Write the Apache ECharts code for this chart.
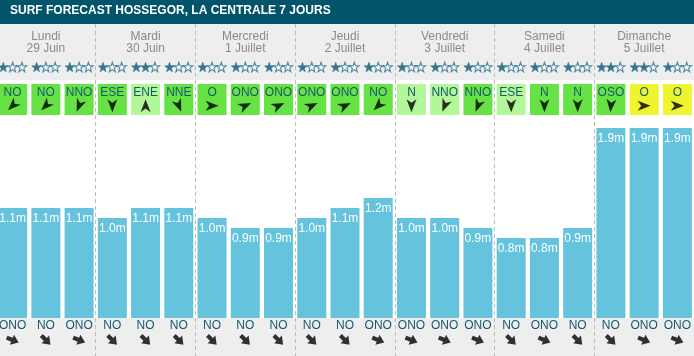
<!DOCTYPE html>
<html><head><meta charset="utf-8">
<script src="https://cdn.jsdelivr.net/npm/echarts@6/dist/echarts.min.js"></script>
<style>html,body{margin:0;padding:0;background:#fff;overflow:hidden;width:694px;height:356px}#c{width:698px;height:356px;margin-left:-4px}</style>
</head><body><div id="c"></div>
<script>
const titleText = 'SURF FORECAST HOSSEGOR, LA CENTRALE 7 JOURS';
const days = ['Lundi','Mardi','Mercredi','Jeudi','Vendredi','Samedi','Dimanche'];
const dates = ['29 Juin','30 Juin','1 Juillet','2 Juillet','3 Juillet','4 Juillet','5 Juillet'];
const slots = ['L1','L2','L3','Ma1','Ma2','Ma3','Me1','Me2','Me3','J1','J2','J3','V1','V2','V3','S1','S2','S3','D1','D2','D3'];
const stars = [1,1,1, 1,2,1, 1,1,1, 1,1,1, 1,1,1, 1,1,1, 2,2,1];
const windDir = ['NO','NO','NNO', 'ESE','ENE','NNE', 'O','ONO','ONO', 'ONO','ONO','NO', 'N','NNO','NNO', 'ESE','N','N', 'OSO','O','O'];
const windLevel = ['g','g','g', 'g','l','g', 'g','g','g', 'g','g','g', 'l','l','g', 'l','g','g', 'g','y','y'];
const windArrow = [225,225,202, 180,0,158, 90,65,65, 65,65,225, 180,202,202, 180,180,180, 185,90,90];
const waveHeight = [1.1,1.1,1.1, 1.0,1.1,1.1, 1.0,0.9,0.9, 1.0,1.1,1.2, 1.0,1.0,0.9, 0.8,0.8,0.9, 1.9,1.9,1.9];
const swellDir = ['ONO','NO','ONO', 'NO','NO','NO', 'NO','NO','NO', 'NO','NO','ONO', 'ONO','ONO','ONO', 'NO','ONO','NO', 'NO','ONO','ONO'];

const compass = {N:0,NNE:22.5,NE:45,ENE:67.5,E:90,ESE:112.5,SE:135,SSE:157.5,S:180,SSO:202.5,SO:225,OSO:247.5,O:270,ONO:292.5,NO:315,NNO:337.5};
const levelColor = {g:'#66e244', l:'#b2f799', y:'#eef530'};
const dartPath = 'path://M0,-10 L7,8 L0,3 L-7,8 Z';
const blockArrow = 'path://M0,-9 L8,0 L3,0 L3,7 L-3,7 L-3,0 L-8,0 Z';
const starPath = 'path://M0,-10 L2.35,-3.24 L9.51,-3.09 L3.8,1.24 L5.88,8.09 L0,4 L-5.88,8.09 L-3.8,1.24 L-9.51,-3.09 L-2.35,-3.24 Z';
const teal = '#16596f';
const FONT = 'Liberation Sans, Arial, sans-serif';

function starSeries(k){
  return {type:'scatter', xAxisIndex:4, yAxisIndex:4, silent:true, symbol:starPath, symbolSize:9.5,
    symbolOffset:[(k-1)*9.3,0],
    data:stars.map((s,i)=>({value:[i,0.5], itemStyle: k < s
      ? {color:'#0b5571', borderColor:'#2f7b95', borderWidth:0.8}
      : {color:'#ffffff', borderColor:'#24708c', borderWidth:1.1}}))};
}

const chart = echarts.init(document.getElementById('c'), null, {renderer:'canvas'});
chart.setOption({
  animation:false,
  backgroundColor:'#ffffff',
  title:{text:titleText, left:14, top:5, padding:0,
    textStyle:{color:'#ffffff', fontSize:12, fontWeight:'bold', fontFamily:FONT}},
  graphic:[
    {type:'rect', z:-10, shape:{x:0,y:0,width:698,height:24}, style:{fill:'#01546a'}},
    {type:'rect', z:-10, shape:{x:0,y:24,width:698,height:56}, style:{fill:'#eeeeee'}},
    {type:'rect', z:-10, shape:{x:0,y:318,width:698,height:38}, style:{fill:'#eeeeee'}}
  ],
  grid:[
    {left:0, right:0, top:24, bottom:0},
    {left:0, right:0, top:84, height:31},
    {left:0, right:0, top:118, bottom:38},
    {left:0, right:0, top:318, bottom:0},
    {left:0, right:0, top:58, height:18}
  ],
  xAxis:[
    {gridIndex:0, type:'category', position:'top', data:days.map((d,i)=>d+'\n'+dates[i]),
      axisLine:{show:false}, axisTick:{show:false},
      axisLabel:{inside:true, margin:7, color:'#8a8a8a', fontSize:12, lineHeight:12, fontFamily:FONT},
      splitLine:{show:true, lineStyle:{color:'#bdbdbd', type:[4,3], width:1}}},
    {gridIndex:1, type:'category', data:slots, show:false},
    {gridIndex:2, type:'category', data:slots, show:false},
    {gridIndex:3, type:'category', position:'top', data:slots,
      axisLine:{show:false}, axisTick:{show:false},
      axisLabel:{inside:true, interval:0, margin:2, color:teal, fontSize:12, fontFamily:FONT,
        formatter:(v,i)=>swellDir[i]}},
    {gridIndex:4, type:'category', data:slots, show:false}
  ],
  yAxis:[
    {gridIndex:0, type:'value', show:false, min:0, max:1},
    {gridIndex:1, type:'value', show:false, min:0, max:1},
    {gridIndex:2, type:'value', show:false, min:0, max:2},
    {gridIndex:3, type:'value', show:false, min:0, max:1},
    {gridIndex:4, type:'value', show:false, min:0, max:1}
  ],
  series:[
    {type:'bar', xAxisIndex:1, yAxisIndex:1, barWidth:29, silent:true,
      data:windDir.map((d,i)=>({value:1, itemStyle:{color:levelColor[windLevel[i]]}})),
      label:{show:true, position:'insideTop', distance:3, color:teal, fontSize:12,
        fontFamily:FONT, formatter:p=>windDir[p.dataIndex]}},
    {type:'scatter', xAxisIndex:1, yAxisIndex:1, silent:true, symbol:dartPath, symbolSize:[10,13],
      itemStyle:{color:'#000'},
      data:windArrow.map((a,i)=>({value:[i,0.3], symbolRotate:-a}))},
    {type:'bar', xAxisIndex:2, yAxisIndex:2, barWidth:29, silent:true,
      itemStyle:{color:'#65c3de'}, data:waveHeight,
      label:{show:true, position:'insideTop', distance:5, color:'#ffffff', fontSize:12,
        fontFamily:FONT, formatter:p=>p.value.toFixed(1)+'m'}},
    {type:'scatter', xAxisIndex:3, yAxisIndex:3, silent:true, symbol:blockArrow, symbolSize:[11,13],
      itemStyle:{color:'#000'},
      data:swellDir.map((d,i)=>({value:[i,0.42], symbolRotate:-((compass[d]+180)%360)}))},
    starSeries(0), starSeries(1), starSeries(2)
  ]
});
</script></body></html>
